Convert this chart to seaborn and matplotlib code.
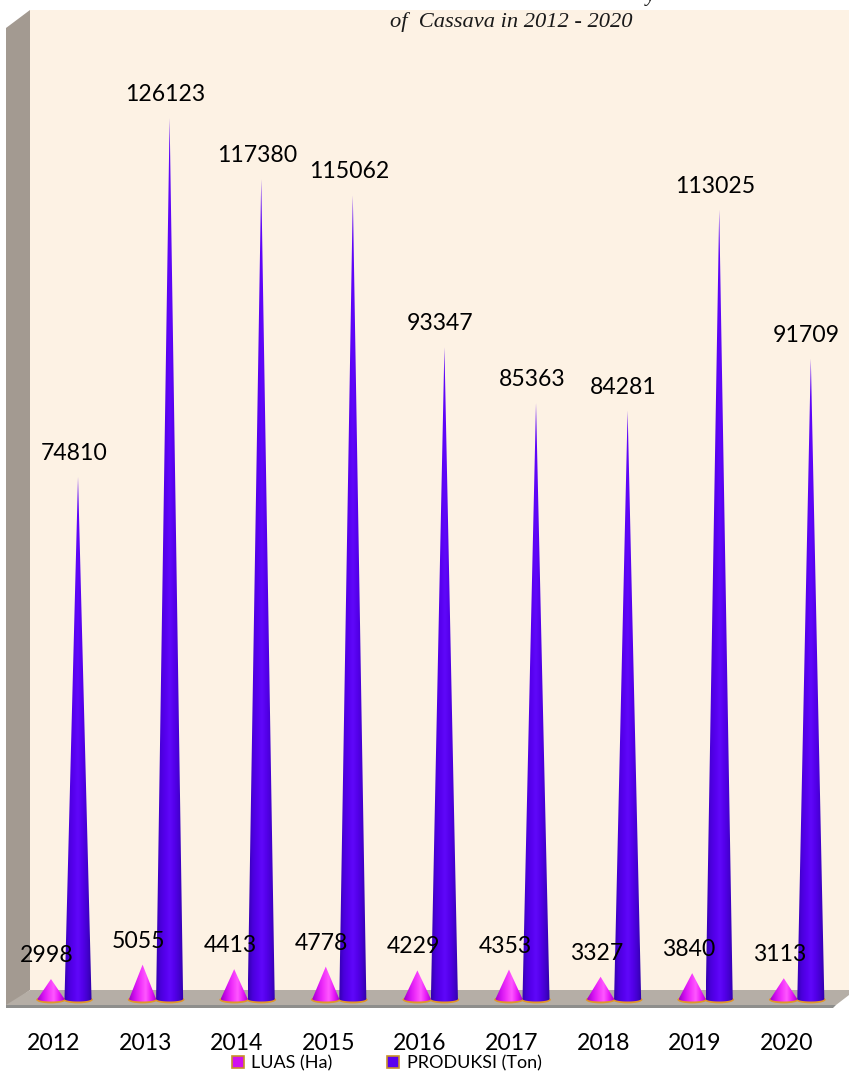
import numpy as np
import pandas as pd
import seaborn as sns
import matplotlib
matplotlib.use("Agg")
import matplotlib.pyplot as plt
from matplotlib.patches import Polygon, Ellipse, Patch
from matplotlib.colors import LinearSegmentedColormap
from matplotlib.transforms import ScaledTranslation, Affine2D

years = ["2012", "2013", "2014", "2015", "2016", "2017", "2018", "2019", "2020"]
luas = [2998, 5055, 4413, 4778, 4229, 4353, 3327, 3840, 3113]
produksi = [74810, 126123, 117380, 115062, 93347, 85363, 84281, 113025, 91709]
series_names = ["LUAS (Ha)", "PRODUKSI (Ton)"]

W, H = 849, 1073
sns.set_theme(style="white")
plt.rcParams["font.family"] = ["Lato", "DejaVu Sans"]

df = pd.DataFrame({
    "year": years * 2,
    "series": [series_names[0]] * 9 + [series_names[1]] * 9,
    "value": luas + produksi,
})

fig = plt.figure(figsize=(W / 100, H / 100), dpi=100, facecolor="white")
px = Affine2D().scale(1, -1).translate(0, H)  # image pixel coords -> display


def fpoly(pts, color, z=0):
    fig.add_artist(Polygon(pts, closed=True, transform=px, facecolor=color,
                           edgecolor="none", zorder=z))


fpoly([(30, 10), (849, 10), (849, 990), (30, 990)], "#FDF2E4")
fpoly([(6, 28), (30, 10), (30, 990), (6, 1008)], "#A39A91")
fpoly([(30, 990), (849, 990), (849, 995), (836, 1005), (6, 1005)], "#B5AEA6")
fpoly([(6, 1005), (836, 1005), (833, 1008), (6, 1008)], "#8E8E8C")

left, right = 18.7, 843.1
bottom_px = 1012.0
scale = 882.0 / 126123  # pixels per unit
ax = fig.add_axes([left / W, (H - bottom_px) / H, (right - left) / W, bottom_px / H])
ax.patch.set_alpha(0)
sns.barplot(data=df, x="year", y="value", hue="series", order=years,
            hue_order=series_names, width=0.59, gap=0, dodge=True,
            legend=False, ax=ax)
ylim = (-12 / scale, 1000 / scale)
ax.set_xlim(-0.5, 8.5)
ax.set_ylim(*ylim)
for s in ax.spines.values():
    s.set_visible(False)
ax.set_xlabel("")
ax.set_ylabel("")
ax.set_yticks([])

cmaps = [
    LinearSegmentedColormap.from_list("m", ["#A000C8", "#D010F0", "#F030FA", "#FF58FF", "#E818F8", "#A000CC"]),
    LinearSegmentedColormap.from_list("p", ["#3400B0", "#4A00DC", "#5600EE", "#6008FA", "#5400EA", "#4400D0", "#3000A8"]),
]
edge = "#E0962A"
grad = np.linspace(0, 1, 64).reshape(1, -1)
rects = [r for r in sorted(ax.patches, key=lambda r: r.get_x()) if r.get_height() > 0]
base_y = 1.0 / scale  # base centre 1 px above the zero line
base_semi = 2.5 / scale
for r in rects:
    r.set_visible(False)
    x0, w, h = r.get_x(), r.get_width(), r.get_height()
    idx = 1 if h > 20000 else 0
    cx = x0 + w / 2
    ax.add_patch(Ellipse((cx, base_y - 0.7 / scale), w * 1.1, 2 * base_semi + 2.4 / scale,
                         facecolor=edge, edgecolor="none", zorder=2))
    tt = np.linspace(np.pi, 2 * np.pi, 30)
    base = np.c_[cx + w / 2 * np.cos(tt), base_semi * np.sin(tt) + base_y]
    shape = np.vstack([[[cx, h]], base])
    clip = Polygon(shape, closed=True, transform=ax.transData, facecolor="none", edgecolor="none")
    ax.add_patch(clip)
    im = ax.imshow(grad, cmap=cmaps[idx], extent=(x0, x0 + w, ylim[0], h), aspect="auto",
                   zorder=3, interpolation="bilinear")
    im.set_clip_path(clip)
    ax.annotate(str(int(h)), (cx, h), xytext=(-4 * 0.72, 23.5 * 0.72),
                textcoords="offset points", ha="center", va="center", fontsize=16.6,
                color="black", zorder=6, annotation_clip=False)
ax.set_xlim(-0.5, 8.5)
ax.set_ylim(*ylim)

ax.tick_params(axis="x", length=0, labelsize=16.6, pad=0, labelcolor="black")
ax.set_xticks(range(9), years)
off = ScaledTranslation(-10.8 / 100, -21 / 100, fig.dpi_scale_trans)
for t in ax.get_xticklabels():
    t.set_transform(t.get_transform() + off)

handles = [Patch(facecolor="#D010F0", edgecolor="#C8902A", linewidth=1.2),
           Patch(facecolor="#5A00F0", edgecolor="#C8902A", linewidth=1.2)]
fig.legend(handles, series_names, loc="center left", bbox_to_anchor=(232 / W, (H - 1063.5) / H),
           ncol=2, frameon=False, fontsize=13, handlelength=0.64, handleheight=0.64,
           handletextpad=0.42, columnspacing=3.05, borderaxespad=0, borderpad=0,
           labelcolor="black")

fig.text(390 / W, (H - 22) / H, "of  Cassava in 2012 - 2020", family=["Liberation Serif"],
         style="italic", fontsize=16.2, color="#1a1a1a", ha="left", va="center", zorder=10)
fig.text(650 / W, (H + 4) / H, "y", family=["Liberation Serif"], style="italic", fontsize=15,
         color="#1a1a1a", ha="center", va="center", zorder=10)

fig.savefig("out.png", dpi=100)
